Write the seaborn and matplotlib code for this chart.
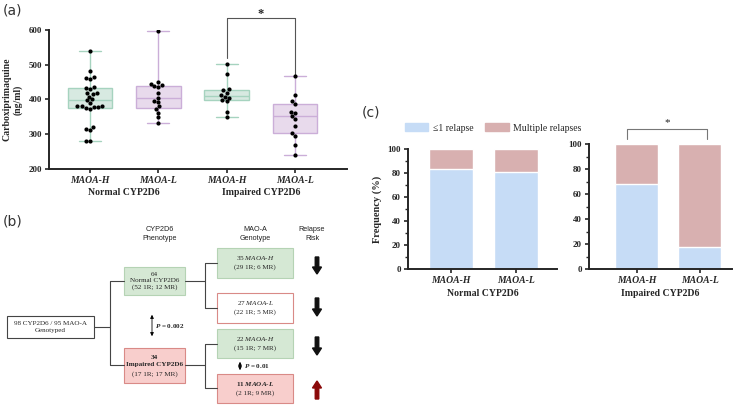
import pandas as pd
import seaborn as sns
import matplotlib.pyplot as plt
from matplotlib.patches import Rectangle, Patch
from matplotlib.transforms import blended_transform_factory

# ---- datos panel (a): carboxiprimaquina (ng/ml) ----
normal_h = [540, 482, 465, 462, 460, 437, 434, 430, 420, 418, 415, 408, 400, 398,
            390, 382, 380, 380, 378, 378, 375, 372, 320, 315, 312, 282, 280]
normal_l = [598, 450, 445, 442, 438, 435, 418, 405, 395, 393, 380, 372, 362, 350, 332]
impaired_h = [502, 472, 430, 426, 420, 412, 408, 405, 398, 395, 365, 350]
impaired_l = [468, 412, 395, 387, 365, 360, 352, 345, 325, 303, 295, 270, 240]

grupos = ['Normal CYP2D6', 'Impaired CYP2D6']
genotipos = ['MAOA-H', 'MAOA-L']

# ---- datos panel (c): frecuencia (%) ----
pct_1r_normal = [83, 81]
pct_1r_impaired = [68, 18]

# ---- datos panel (b): conteos ----
n_cyp, n_mao = 98, 95
n_normal, ir_normal, mr_normal = 64, 52, 12
n_impaired, ir_impaired, mr_impaired = 34, 17, 17
ramas = [  # (n, genotipo, 1R, MR)
    (35, 'MAOA-H', 29, 6),
    (27, 'MAOA-L', 22, 5),
    (22, 'MAOA-H', 15, 7),
    (11, 'MAOA-L', 2, 9),
]
p_fenotipo = '0.002'
p_genotipo = '0.01'

SERIF = 'Liberation Serif'
SANS = 'Liberation Sans'
VERDE, VERDE_BORDE = '#d4ece1', '#a6d3bf'
LILA, LILA_BORDE = '#e9d7ef', '#cbaed8'
AZUL, ROSA = '#c6dcf6', '#d8b0b0'

sns.set_style('ticks')
plt.rcParams['font.family'] = [SERIF, 'DejaVu Sans']
plt.rcParams['mathtext.fontset'] = 'custom'
plt.rcParams['mathtext.rm'] = SERIF
plt.rcParams['mathtext.it'] = SERIF + ':italic'
plt.rcParams['mathtext.bf'] = SERIF + ':bold'
plt.rcParams['mathtext.bfit'] = SERIF + ':bold:italic'

W, H = 745, 407
fig = plt.figure(figsize=(W / 100, H / 100), dpi=100)


def eje(x0, x1, y0, y1):
    return fig.add_axes([x0 / W, 1 - y1 / H, (x1 - x0) / W, (y1 - y0) / H])


# =================== panel (a) ===================
orden = ['N-H', 'N-L', 'I-H', 'I-L']
filas = []
for clave, vals in zip(orden, [normal_h, normal_l, impaired_h, impaired_l]):
    for v in vals:
        filas.append({'clave': clave, 'gen': clave[-1], 'valor': v})
df_a = pd.DataFrame(filas)

ax_a = eje(49, 347, 30, 169)
for gen, relleno, borde in [('H', VERDE, VERDE_BORDE), ('L', LILA, LILA_BORDE)]:
    sns.boxplot(data=df_a[df_a['gen'] == gen], x='clave', y='valor', order=orden,
                color=relleno, linecolor=borde, linewidth=1, width=0.65,
                whis=(0, 100), showfliers=False, ax=ax_a)
sns.swarmplot(data=df_a, x='clave', y='valor', order=orden, color='black',
              size=3.0, ax=ax_a)
ax_a.set_ylim(200, 600)
ax_a.set_xlim(-0.6, 3.76)
ax_a.set_yticks([200, 300, 400, 500, 600])
ax_a.set_xticks(range(4))
ax_a.set_xticklabels(genotipos * 2, fontstyle='italic', fontweight='bold', fontsize=7)
for t in ax_a.get_yticklabels():
    t.set_fontweight('bold')
    t.set_fontsize(6.5)
ax_a.set_xlabel('')
ax_a.set_ylabel('Carboxiprimaquine\n(ng/ml)', fontweight='bold', fontsize=7, labelpad=4)
ax_a.tick_params(length=3, width=1.2, pad=2)
for s in ['left', 'bottom']:
    ax_a.spines[s].set_linewidth(1.4)
sns.despine(ax=ax_a)
tr = blended_transform_factory(ax_a.transData, ax_a.transAxes)
for x, g in zip([0.5, 2.5], grupos):
    ax_a.text(x, -0.17, g, transform=tr, ha='center', va='center',
              fontweight='bold', fontsize=7)
ax_a.plot([2, 2, 3, 3], [520, 634, 634, 470], color='#555555', lw=0.8, clip_on=False)
ax_a.text(2.5, 646, '*', ha='center', va='center', fontsize=9, fontweight='bold')

# =================== panel (c) ===================
for (x0, x1, y0, y1, pct, grupo, xl) in [
        (408, 557, 149, 269, pct_1r_normal, grupos[0], (-0.66, 1.63)),
        (589, 732, 144, 269, pct_1r_impaired, grupos[1], (-0.76, 1.51))]:
    ax = eje(x0, x1, y0, y1)
    df_c = pd.DataFrame({'gen': genotipos, 'total': [100, 100], 'uno': pct})
    sns.barplot(data=df_c, x='gen', y='total', color=ROSA, width=0.68, ax=ax,
                saturation=1)
    sns.barplot(data=df_c, x='gen', y='uno', color=AZUL, width=0.68, ax=ax,
                saturation=1)
    ax.set_ylim(0, 100)
    ax.set_xlim(*xl)
    ax.set_yticks(range(0, 101, 20))
    ax.set_yticks(range(10, 100, 20), minor=True)
    ax.set_xticks([0, 1])
    ax.set_xticklabels(genotipos, fontstyle='italic', fontweight='bold', fontsize=7)
    for t in ax.get_yticklabels():
        t.set_fontweight('bold')
        t.set_fontsize(6.5)
    ax.tick_params(length=3, width=1.2, pad=2)
    ax.tick_params(which='minor', length=2, width=1)
    for s in ['left', 'bottom']:
        ax.spines[s].set_linewidth(1.4)
    sns.despine(ax=ax)
    ax.set_xlabel(grupo, fontweight='bold', fontsize=7, labelpad=3)
    ax.set_ylabel('')
    if grupo == grupos[0]:
        ax.set_ylabel('Frequency (%)', fontweight='bold', fontsize=7.5, labelpad=4)
    else:
        ax.plot([-0.15, -0.15, 1.12, 1.12], [104, 112, 112, 104], color='#777777',
                lw=0.8, clip_on=False)
        ax.text(0.48, 117, '*', ha='center', va='center', fontsize=8)

fig.legend(handles=[Patch(color=AZUL, label='≤1 relapse'),
                    Patch(color=ROSA, label='Multiple relapses')],
           loc='center left', bbox_to_anchor=(396 / W, 1 - 128 / H), ncol=2,
           frameon=False, handlelength=2.4, handleheight=0.9,
           columnspacing=1.2, handletextpad=0.5,
           prop={'family': [SERIF, 'DejaVu Sans'], 'size': 7})

# =================== panel (b) ===================
ax_b = fig.add_axes([0, 0, 360 / W, 197 / H])
ax_b.set_xlim(0, 360)
ax_b.set_ylim(407, 210)
ax_b.axis('off')


def caja(x0, x1, y0, y1, fc, ec):
    ax_b.add_patch(Rectangle((x0, y0), x1 - x0, y1 - y0, fc=fc, ec=ec, lw=0.8))


FS = 5.1
LINEA = '#444444'
VERDE_B, VERDE_B_BORDE = '#d5e8d4', '#b5d3b4'
ROJO_B, ROJO_B_BORDE = '#f8cecc', '#d98a87'

# cabeceras
for x, t in [(160, 'CYP2D6\nPhenotype'), (255, 'MAO-A\nGenotype'), (312, 'Relapse\nRisk')]:
    ax_b.text(x, 234, t, ha='center', va='center', fontsize=5.2, family=SANS,
              color='#222222', linespacing=1.3)

# raíz
caja(7, 94, 316, 338, 'white', LINEA)
ax_b.text(50.5, 327, f'{n_cyp} CYP2D6 / {n_mao} MAO-A\nGenotyped', ha='center',
          va='center', fontsize=FS, linespacing=1.4)

# fenotipos
caja(124, 185, 267, 295, VERDE_B, VERDE_B_BORDE)
ax_b.text(154.5, 281, f'{n_normal}\nNormal CYP2D6\n({ir_normal} 1R; {mr_normal} MR)',
          ha='center', va='center', fontsize=FS, linespacing=1.35)
caja(124, 185, 348, 383, ROJO_B, ROJO_B_BORDE)
ax_b.text(154.5, 361, f'{n_impaired}\nImpaired CYP2D6', ha='center', va='center',
          fontsize=FS, fontweight='bold', linespacing=1.35)
ax_b.text(154.5, 374, f'({ir_impaired} 1R; {mr_impaired} MR)', ha='center',
          va='center', fontsize=FS)

# genotipos
estilos = [(248, 278, VERDE_B, VERDE_B_BORDE, 'normal'),
           (293, 323, 'white', ROJO_B_BORDE, 'normal'),
           (329, 358, VERDE_B, VERDE_B_BORDE, 'normal'),
           (374, 403, ROJO_B, ROJO_B_BORDE, 'bold')]
for (n, gen, ir, mr), (y0, y1, fc, ec, peso) in zip(ramas, estilos):
    caja(217, 293, y0, y1, fc, ec)
    yc = (y0 + y1) / 2
    a, b = gen.split('-')
    if peso == 'bold':
        etiqueta = f'{n} $\\mathbfit{{{a}}}$-$\\mathbfit{{{b}}}$'
    else:
        etiqueta = f'{n} $\\mathit{{{a}}}$-$\\mathit{{{b}}}$'
    ax_b.text(255, yc - 4.5, etiqueta, ha='center', va='center', fontsize=FS,
              fontweight=peso)
    ax_b.text(255, yc + 4.5, f'({ir} 1R; {mr} MR)', ha='center', va='center',
              fontsize=FS)

# conectores
ax_b.plot([94, 110], [327, 327], color=LINEA, lw=0.8)
ax_b.plot([124, 110, 110, 124], [281, 281, 365, 365], color=LINEA, lw=0.8)
ax_b.plot([185, 205], [281, 281], color=LINEA, lw=0.8)
ax_b.plot([217, 205, 205, 217], [263, 263, 308, 308], color=LINEA, lw=0.8)
ax_b.plot([185, 205], [365, 365], color=LINEA, lw=0.8)
ax_b.plot([217, 205, 205, 217], [344, 344, 388, 388], color=LINEA, lw=0.8)

# valores p
ax_b.annotate('', xy=(152, 312), xytext=(152, 339),
              arrowprops=dict(arrowstyle='<|-|>', color='black', lw=0.6,
                              mutation_scale=5))
ax_b.text(155, 326, f'$\\mathbfit{{P}}$ = {p_fenotipo}', ha='left', va='center',
          fontsize=FS, fontweight='bold')
ax_b.annotate('', xy=(240, 359), xytext=(240, 373),
              arrowprops=dict(arrowstyle='<|-|>', color='black', lw=0.6,
                              mutation_scale=5))
ax_b.text(244, 366, f'$\\mathbfit{{P}}$ = {p_genotipo}', ha='left', va='center',
          fontsize=FS, fontweight='bold')

# flechas de riesgo
for y0, dy, c in [(257, 17, '#111111'), (298, 18, '#111111'), (337, 18, '#111111'),
                  (399, -18, '#8b0a0a')]:
    ax_b.arrow(317, y0, 0, dy, width=3.5, head_width=9, head_length=7,
               length_includes_head=True, color=c)

# etiquetas de panel
for x, y, t in [(3, 10, '(a)'), (3, 222, '(b)'), (362, 112, '(c)')]:
    fig.text(x / W, 1 - y / H, t, fontsize=10, family='DejaVu Sans', color='#333333',
             va='center', ha='left')

fig.savefig('out.png', dpi=100)
